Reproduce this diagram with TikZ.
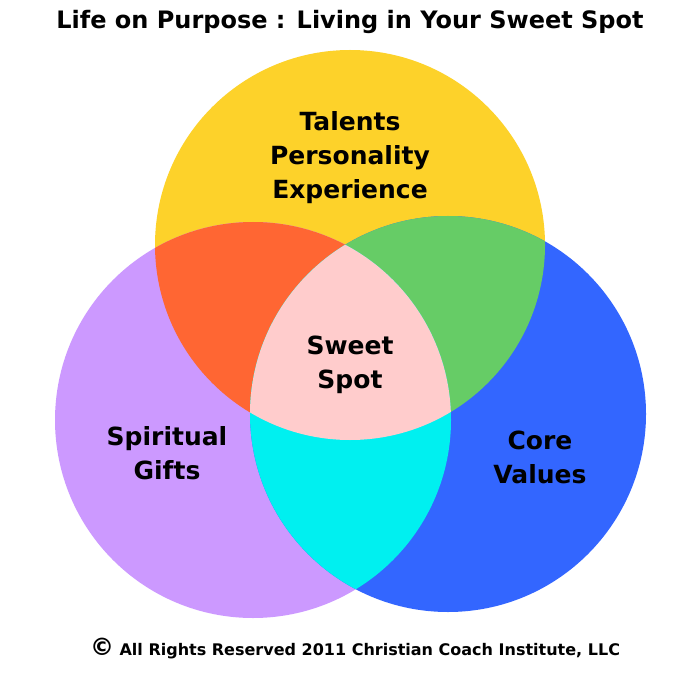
\documentclass[tikz,border=0pt]{standalone}
\usepackage{fontspec}
\setmainfont{DejaVu Sans}
\definecolor{cyel}{RGB}{253,210,42}
\definecolor{clav}{RGB}{204,153,255}
\definecolor{cblu}{RGB}{51,102,255}
\definecolor{corg}{RGB}{255,102,51}
\definecolor{cgrn}{RGB}{102,204,102}
\definecolor{ccyn}{RGB}{0,240,240}
\definecolor{cpnk}{RGB}{255,204,204}
\begin{document}
\begin{tikzpicture}[x=1pt,y=-1pt,
  lbl/.style={font=\bfseries\fontsize{25}{34}\selectfont,align=center,text=black}]
\useasboundingbox (0,0) rectangle (700,700);
\fill[white] (0,0) rectangle (700,700);
\def\T{(350,245) circle (195)}
\def\L{(253,420) circle (198)}
\def\R{(448,414) circle (198)}
\fill[cyel] \T;
\fill[clav] \L;
\fill[cblu] \R;
\begin{scope}\clip \T; \fill[corg] \L; \end{scope}
\begin{scope}\clip \T; \fill[cgrn] \R; \end{scope}
\begin{scope}\clip \L; \fill[ccyn] \R; \end{scope}
\begin{scope}\clip \T; \clip \L; \fill[cpnk] \R; \end{scope}
\node[font=\bfseries\fontsize{24}{28}\selectfont] (title) at (350,22) {Life on Purpose : Living in Your Sweet Spot};
\node[lbl] (tal) at (350,158) {Talents\\Personality\\Experience};
\node[lbl] (sw) at (350,365) {Sweet\\Spot};
\node[lbl] (sg) at (167,453) {Spiritual\\Gifts};
\node[lbl] (cv) at (540,457) {Core\\Values};
\node[font=\bfseries\fontsize{16}{20}\selectfont] (copy) at (355,649) {{\fontsize{24}{24}\selectfont\textcopyright} All Rights Reserved 2011 Christian Coach Institute, LLC};
\end{tikzpicture}
\end{document}
